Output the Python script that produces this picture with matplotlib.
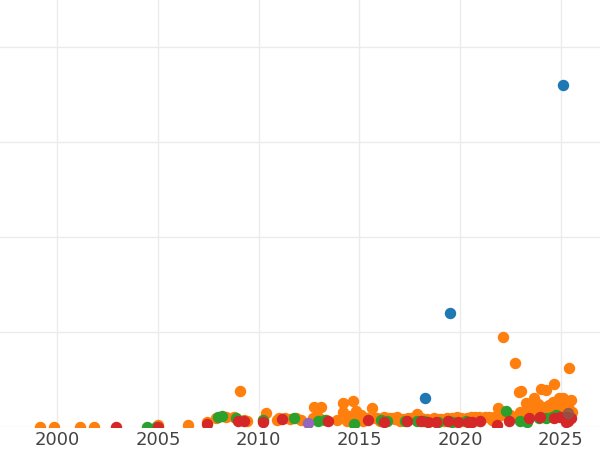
import matplotlib.pyplot as plt

# year / value pairs (value axis has no labels)
blue_year = [2018.26, 2019.50, 2025.12]
blue_val = [153, 600, 1800]

orange_year = [1999.15, 1999.85, 2001.14, 2001.84, 2005.02, 2006.47, 2007.41, 2007.9, 2008.4,
               2009.05, 2009.25, 2009.4, 2010.35, 2010.2, 2010.9, 2011.3, 2011.55, 2011.85,
               2012.1, 2012.74, 2013.08, 2012.95, 2012.7, 2014.2, 2014.66, 2014.18, 2014.5,
               2014.85, 2015.1, 2014.9, 2015.0, 2015.3, 2015.6, 2015.4, 2015.75, 2016.05,
               2016.2, 2016.45, 2016.75, 2016.85, 2017.15, 2017.4, 2017.75, 2017.86, 2018.05,
               2018.35, 2018.7, 2019.05, 2019.35, 2019.85, 2020.05, 2020.35, 2020.55, 2020.95,
               2021.25, 2021.45, 2021.9, 2022.05, 2022.14, 2022.3, 2022.6, 2022.74, 2022.9,
               2023.0, 2022.95, 2023.28, 2023.5, 2023.68, 2023.85, 2024.03, 2024.28, 2024.68,
               2024.92, 2025.0, 2025.25, 2025.42, 2025.52, 2024.5, 2024.1, 2024.4, 2023.9,
               2023.4, 2023.1, 2024.85, 2025.12, 2025.35, 2025.55, 2023.6, 2024.2, 2024.6,
               2023.75, 2022.45, 2021.7, 2020.75, 2019.6, 2018.95, 2017.55, 2016.6, 2015.85,
               2013.35, 2011.0, 2008.75, 2015.2, 2016.0, 2017.0, 2018.5, 2019.2, 2020.2,
               2021.0, 2021.6, 2014.4, 2013.9]
orange_val = [2, 2, 2, 2, 10, 10, 25, 45, 55,
              190, 35, 30, 75, 35, 35, 45, 40, 45,
              35, 105, 105, 55, 45, 125, 135, 80, 60,
              85, 65, 50, 40, 45, 100, 45, 45, 40,
              50, 45, 40, 50, 40, 45, 40, 70, 45,
              40, 45, 40, 45, 50, 45, 45, 50, 50,
              50, 50, 100, 65, 473, 75, 55, 337, 185,
              190, 80, 125, 90, 150, 120, 200, 195, 225,
              150, 115, 95, 310, 140, 95, 105, 115, 80,
              95, 70, 85, 150, 110, 80, 110, 95, 130,
              90, 65, 50, 55, 45, 40, 45, 45, 45,
              35, 45, 50, 30, 30, 30, 30, 30, 30,
              30, 35, 30, 35]

green_year = [2004.48, 2004.88, 2007.96, 2008.2, 2008.86, 2010.2, 2011.74, 2012.94, 2013.3,
              2014.73, 2016.07, 2016.35, 2017.25, 2017.85, 2018.2, 2018.9, 2019.4, 2019.6,
              2020.3, 2022.29, 2022.98, 2023.3, 2023.9, 2024.28, 2024.55, 2024.78, 2025.1]
green_val = [0, 0, 55, 60, 45, 35, 45, 30, 35,
             15, 35, 30, 30, 30, 30, 25, 30, 25,
             30, 85, 30, 25, 45, 45, 50, 65, 50]

red_year = [2002.94, 2004.98, 2007.41, 2008.95, 2009.25, 2010.2, 2011.14, 2013.43, 2015.42,
            2016.22, 2017.36, 2018.06, 2018.4, 2018.8, 2019.4, 2019.9, 2020.4, 2020.6,
            2021.0, 2021.84, 2022.44, 2023.43, 2023.98, 2024.68, 2024.97, 2025.3, 2025.37,
            2025.25, 2025.5]
red_val = [0, 0, 15, 30, 30, 25, 40, 30, 35,
           25, 30, 30, 25, 25, 30, 25, 25, 25,
           30, 10, 30, 45, 55, 45, 50, 55, 30, 25, 45]

purple_year = [2012.44]
purple_val = [20]

brown_year = [2025.37]
brown_val = [75]

fig = plt.figure(figsize=(6, 4.5), dpi=100)
ax = fig.add_axes([0, 23 / 450, 1, 427 / 450])

ax.scatter(blue_year, blue_val, s=52, color='#1f77b4', zorder=3)
ax.scatter(orange_year, orange_val, s=52, color='#ff7f0e', zorder=3)
ax.scatter(green_year, green_val, s=52, color='#2ca02c', zorder=3)
ax.scatter(red_year, red_val, s=52, color='#d62728', zorder=3)
ax.scatter(purple_year, purple_val, s=52, color='#9467bd', zorder=3)
ax.scatter(brown_year, brown_val, s=52, color='#8c564b', alpha=0.8, zorder=3)

ax.set_xlim(1997.16, 2026.94)
ax.set_ylim(0, 2247)
ax.set_xticks([2000, 2005, 2010, 2015, 2020, 2025])
ax.set_yticks([0, 500, 1000, 1500, 2000])
ax.set_yticklabels([])
ax.tick_params(length=0, labelsize=13, labelcolor='#444444', pad=3)
ax.grid(color='#ebebeb', linewidth=1, zorder=0)
ax.set_axisbelow(True)
for sp in ax.spines.values():
    sp.set_visible(False)

fig.savefig('out.png', dpi=100)
